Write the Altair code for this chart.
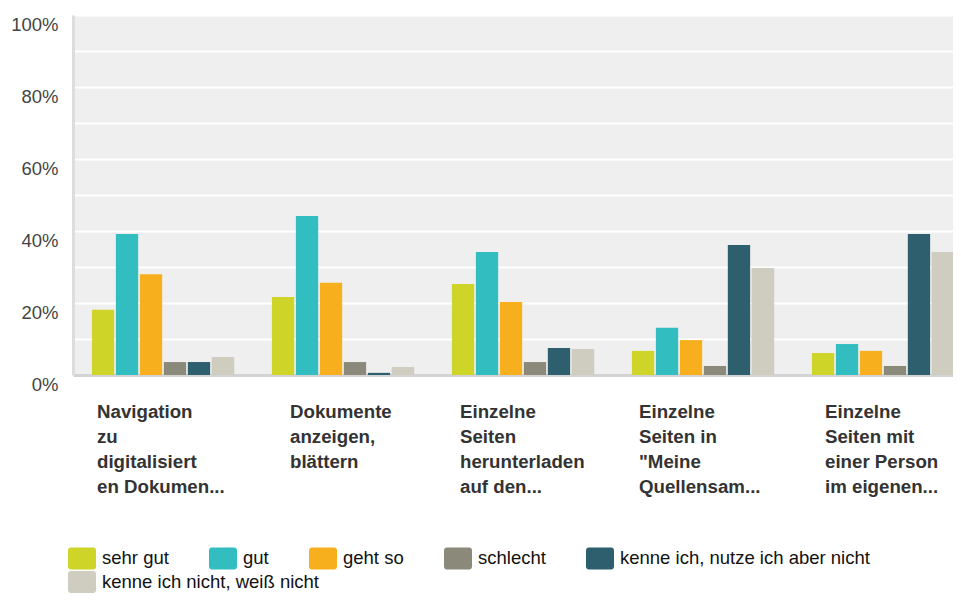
import altair as alt
import pandas as pd

# ---- data ----
categories = [
    "Navigation|zu|digitalisiert|en Dokumen...",
    "Dokumente|anzeigen,|blättern",
    "Einzelne|Seiten|herunterladen|auf den...",
    "Einzelne|Seiten in|\"Meine|Quellensam...",
    "Einzelne|Seiten mit|einer Person|im eigenen...",
]
series = [
    "sehr gut",
    "gut",
    "geht so",
    "schlecht",
    "kenne ich, nutze ich aber nicht",
    "kenne ich nicht, weiß nicht",
]
sehr_gut = [18.1, 21.7, 25.3, 6.7, 6.1]
gut = [39.2, 44.2, 34.2, 13.1, 8.6]
geht_so = [28.0, 25.6, 20.3, 9.7, 6.7]
schlecht = [3.6, 3.6, 3.6, 2.5, 2.5]
kenne_nutze_nicht = [3.6, 0.6, 7.5, 36.1, 39.2]
kenne_nicht = [5.0, 2.2, 7.2, 29.7, 34.2]
y_ticks = [0, 10, 20, 30, 40, 50, 60, 70, 80, 90, 100]

colors = ["#CFD428", "#32BEC1", "#F7AF1E", "#8A897A", "#2E5F6E", "#CFCDBF"]

rows = []
for s, vals in zip(series, [sehr_gut, gut, geht_so, schlecht, kenne_nutze_nicht, kenne_nicht]):
    for c, v in zip(categories, vals):
        rows.append({"Kategorie": c, "Antwort": s, "Anteil": v})
df = pd.DataFrame(rows)

FONT = "Liberation Sans, Arial, Helvetica, sans-serif"

# per-label horizontal shift so each left-aligned text block sits centred under its group
label_shift = [-66, -53, -63, -64, -58]
offset_cond = {
    "condition": [
        {"test": "datum.value == '" + c + "'", "value": o}
        for c, o in zip(categories, label_shift)
    ],
    "value": -60,
}

rounded_rect = (
    "M-0.8,-0.786 H0.8 A0.2,0.2 0 0 1 1,-0.586 V0.586 A0.2,0.2 0 0 1 0.8,0.786 "
    "H-0.8 A0.2,0.2 0 0 1 -1,0.586 V-0.586 A0.2,0.2 0 0 1 -0.8,-0.786 Z"
)

x_enc = alt.X(
    "Kategorie:N",
    sort=categories,
    scale=alt.Scale(range=[0, 900], paddingInner=0.21, paddingOuter=0.105),
    axis=alt.Axis(
        title=None,
        labelExpr="split(datum.label, '|')",
        labelAngle=0,
        labelAlign="left",
        labelBaseline="top",
        labelPadding=27,
        labelFont=FONT,
        labelFontSize=18.7,
        labelFontWeight="bold",
        labelColor="#333333",
        labelLineHeight=25,
        labelOffset=offset_cond,
        labelLimit=400,
        labelOverlap=False,
        labelBound=False,
        labelFlush=False,
        ticks=False,
        grid=False,
        domainColor="#d3d3d3",
        domainWidth=3,
    ),
)
xoff_enc = alt.XOffset("Antwort:N", sort=series, scale=alt.Scale(domain=series, paddingInner=0.07))
y_enc = alt.Y(
    "Anteil:Q",
    scale=alt.Scale(domain=[0, 100], nice=False),
    axis=alt.Axis(
        title=None,
        values=y_ticks,
        labelExpr="datum.value % 20 == 0 ? datum.value + '%' : ''",
        labelFont=FONT,
        labelFontSize=18.5,
        labelColor="#444444",
        labelBaseline="top",
        labelPadding=15,
        ticks=False,
        grid=True,
        gridColor="#ffffff",
        gridWidth=2,
        domainColor="#dddddd",
        domainWidth=3,
    ),
)

legend_style = dict(
    title=None,
    orient="none",
    legendX=-5,
    direction="horizontal",
    columnPadding=39,
    symbolType=rounded_rect,
    symbolSize=784,
    symbolStrokeWidth=0,
    symbolOpacity=1,
    labelFont=FONT,
    labelFontSize=18.5,
    labelColor="#111111",
    labelOffset=6,
    labelLimit=400,
)

bars = alt.Chart(df).mark_bar().encode(
    x=x_enc,
    xOffset=xoff_enc,
    y=y_enc,
    color=alt.Color(
        "Antwort:N",
        sort=series,
        scale=alt.Scale(domain=series, range=colors),
        legend=alt.Legend(values=series[:5], legendY=529, **legend_style),
    ),
)

# second legend row (last answer), drawn over its own identical bars
bars_last = (
    alt.Chart(df)
    .transform_filter(alt.datum.Antwort == series[5])
    .mark_bar()
    .encode(
        x=x_enc,
        xOffset=xoff_enc,
        y=y_enc,
        fill=alt.Fill(
            "Antwort:N",
            scale=alt.Scale(domain=series[5:], range=colors[5:]),
            legend=alt.Legend(legendY=553, **legend_style),
        ),
    )
)

chart = (
    alt.layer(bars, bars_last)
    .properties(
        width=880,
        height=360,
        padding={"left": 65, "top": 7, "right": 0, "bottom": 219},
        autosize=alt.AutoSizeParams(type="none"),
    )
    .configure_view(fill="#efefef", strokeOpacity=0)
)

chart.save("out.html", embed_options={"renderer": "svg", "actions": False})
